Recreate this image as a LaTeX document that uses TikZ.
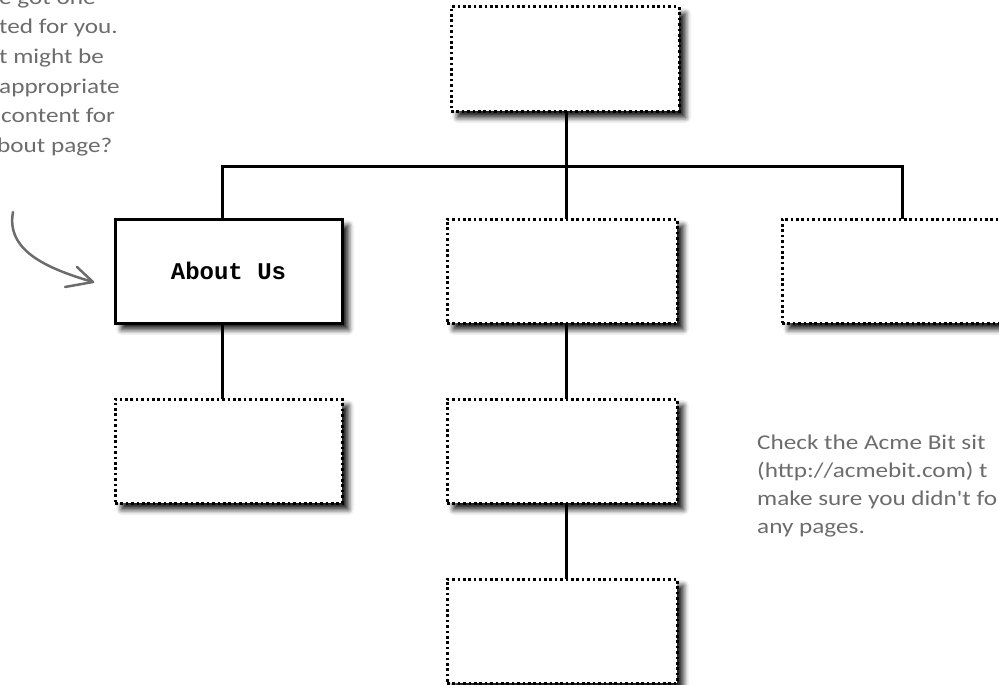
\documentclass[tikz,border=0pt]{standalone}
\usepackage{fontspec}
\setmonofont{Liberation Mono}
\newfontfamily\handfont[FakeStretch=1.2]{Carlito}
\usetikzlibrary{shadows.blur}
\definecolor{handgray}{RGB}{108,108,108}
\tikzset{
  page/.style={draw, fill=white, line width=3pt, dash pattern=on 2.6pt off 2.8pt,
    minimum height=104pt, inner sep=0pt, outer sep=0pt,
    blur shadow={shadow xshift=6.5pt, shadow yshift=-6.5pt, shadow blur radius=5.5pt, shadow opacity=90}},
  solidpage/.style={page, solid, line width=3pt},
  link/.style={line width=3pt},
  note/.style={text=handgray, font=\handfont\fontsize{21}{29}\selectfont, anchor=base west, inner sep=0pt},
  pointer/.style={draw=handgray, line width=2.5pt, line cap=round, line join=round}
}
\begin{document}
\begin{tikzpicture}[x=1pt, y=-1pt]
\useasboundingbox (0,0) rectangle (999,685);
\clip (0,0) rectangle (999,685);
% pages
\node[page, minimum width=228pt] (home) at (565,59) {};
\node[solidpage, minimum width=227pt, font=\ttfamily\bfseries\fontsize{24}{26}\selectfont] (about) at (228.5,271) {About Us};
\node[page, minimum width=230pt] (mid) at (562,271) {};
\node[page, minimum width=229pt] (right) at (896.5,271) {};
\node[page, minimum width=227pt] (leftsub) at (228.5,451) {};
\node[page, minimum width=230pt] (midsub) at (562,451) {};
\node[page, minimum width=230pt] (midsub2) at (562,631) {};
% bus
\coordinate (busL) at (222,166);
\coordinate (busM) at (566,166);
\coordinate (busR) at (902,166);
\draw[link] (busL |- about.north) -- (busL) -- (busR) -- (busR |- right.north);
\draw[link] (busM |- home.south) -- (busM |- mid.north);
\draw[link] (busL |- about.south) -- (busL |- leftsub.north);
\draw[link] (busM |- mid.south) -- (busM |- midsub.north);
\draw[link] (busM |- midsub.south) -- (busM |- midsub2.north);
% notes
\node[note] (n1) at (-1,4.5) {e got one};
\node[note] (n2) at (-1,34) {ted for you.};
\node[note] (n3) at (-1,63.5) {t might be};
\node[note] (n4) at (-1,93) {appropriate};
\node[note] (n5) at (1,122.5) {content for};
\node[note] (n6) at (-3,152) {bout page?};
\node[note] (m1) at (757,449) {Check the Acme Bit sit};
\node[note] (m2) at (757,477) {(http://acmebit.com) t};
\node[note] (m3) at (757,505) {make sure you didn't fo};
\node[note] (m4) at (757,533) {any pages.};
% pointer arrow
\coordinate (pstart) at (13,212);
\coordinate (ptip) at (93,282);
\coordinate (pbarbA) at (77,267);
\coordinate (pbarbB) at (65,287);
\draw[pointer] (pstart) .. controls (6,250) and (45,268) .. (ptip);
\draw[pointer] (pbarbA) -- (ptip) -- (pbarbB);
\end{tikzpicture}
\end{document}
